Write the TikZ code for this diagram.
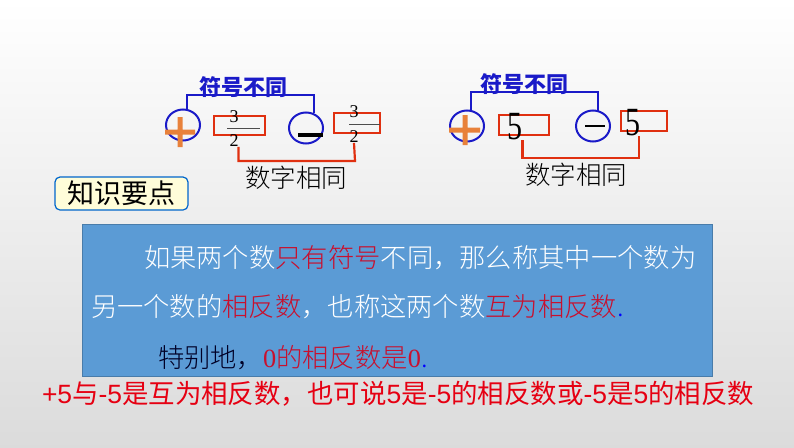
\documentclass[tikz,border=0pt]{standalone}
\usepackage{fontspec}
\usetikzlibrary{shapes.geometric}
\setmainfont{Noto Sans CJK SC}
\newfontfamily\thin{Noto Sans CJK SC Light}
\newfontfamily\lat{Liberation Sans}
\newfontfamily\ser{Liberation Serif}
\definecolor{signblue}{HTML}{1A1AC8}
\definecolor{markred}{HTML}{E03010}
\definecolor{plusorange}{HTML}{E8813A}
\definecolor{boxblue}{HTML}{5B9BD5}
\definecolor{textred}{HTML}{C8102E}
\definecolor{linered}{HTML}{E60012}
\tikzset{
  every node/.style={inner sep=0pt,outer sep=0pt},
  signcirc/.style={ellipse,draw=signblue,line width=2pt,minimum width=34pt,minimum height=31pt},
  numbox/.style={draw=markred,line width=2.2pt,anchor=north west},
  signlink/.style={draw=signblue,line width=2.2pt},
  numlink/.style={draw=markred,line width=2.2pt},
  signtext/.style={font=\fontsize{22}{22}\selectfont\bfseries,text=signblue},
  numtext/.style={font=\thin\fontsize{25.5}{26}\selectfont,text=black},
  digit/.style={font=\ser\fontsize{#1}{#1}\selectfont},
  boxline/.style={anchor=west,font=\thin\fontsize{26.3}{27}\selectfont,text=white}
}
\newcommand{\rd}[1]{\textcolor{textred}{#1}}
\begin{document}
\begin{tikzpicture}[x=1pt,y=-1pt]
  \useasboundingbox (0,0) rectangle (794,447);
  \shade[top color=white,middle color=gray!8,bottom color=gray!28] (0,0) rectangle (794,447);

  % left pair
  \node[signcirc] (circa) at (183,125) {};
  \node[signcirc] (circb) at (306,128) {};
  \fill[plusorange] (165,129.5) rectangle (195,134.5) (177.5,117) rectangle (182.5,147);
  \fill[black] (298,133) rectangle (323,137);
  \node[numbox,minimum width=51pt,minimum height=19pt] (boxa) at (214,116) {};
  \node[numbox,minimum width=46pt,minimum height=20pt] (boxb) at (334,113) {};
  \draw[black!70,line width=.6pt] (227,128) -- (260,128) (349,124) -- (380,124);
  \node[digit=18] (numa) at (234,117) {3};
  \node[digit=18] (dena) at (234,141) {2};
  \node[digit=18] (numb) at (354,112) {3};
  \node[digit=18] (denb) at (354,137) {2};
  \coordinate (topa) at (314,95);
  \coordinate (lowa) at (355,161);
  \draw[signlink] (circa.75) |- (topa) -- (topa |- circb.north);
  \draw[numlink] (dena.south east) |- (lowa) -- (denb.south);
  \node[signtext] (signa) at (243,87) {符号不同};
  \node[numtext] (numsa) at (296,178) {数字相同};

  % right pair
  \node[signcirc] (circc) at (467,126) {};
  \node[signcirc] (circd) at (593,126) {};
  \fill[plusorange] (449,127.5) rectangle (480,132.5) (462.5,115) rectangle (467.5,145);
  \draw[black,line width=1.5pt] (585,126) -- (605,126);
  \node[numbox,minimum width=50pt,minimum height=20pt] (boxc) at (499,115) {};
  \node[numbox,minimum width=46pt,minimum height=20pt] (boxd) at (621,111) {};
  \node[digit=40] (fivea) at (515,127) {\scalebox{.75}[1]{5}};
  \node[digit=40] (fiveb) at (633,123) {\scalebox{.75}[1]{5}};
  \coordinate (topb) at (598,92);
  \coordinate (lowb) at (639,158);
  \draw[signlink] (circc.75) |- (topb) -- (circd.north -| topb);
  \draw[numlink] (fivea.south east) |- (lowb) -- (fiveb.south -| lowb);
  \node[signtext] (signb) at (524,84) {符号不同};
  \node[numtext] (numsb) at (576,175) {数字相同};

  % key points
  \node[draw=blue!50!cyan!80!black,line width=1.2pt,rounded corners=5pt,fill=yellow!15,
    minimum width=133pt,minimum height=33pt,font=\fontsize{27}{27}\selectfont] (keybox) at (121.5,193.5) {\raisebox{-3.5pt}{知识要点}};

  % blue box
  \node[draw=boxblue!80!black,fill=boxblue,minimum width=630pt,minimum height=152pt] (mainbox) at (397,300) {};
  \node[boxline] (linea) at (144,258) {如果两个数\rd{只有符号}不同，那么称其中一个数为};
  \node[boxline] (lineb) at (91,307) {另一个数的\rd{相反数}，也称这两个数\rd{互为相反数}\textcolor{blue}{.}};
  \node[boxline,text=black!85!blue] (linec) at (158,358) {特别地，\rd{{\ser 0}的相反数是{\ser 0}}\textcolor{blue}{.}};

  % bottom line
  \node[anchor=west,text=linered,font=\fontsize{26.45}{27}\selectfont] (lastline) at (42,394)
    {{\lat +5}与{\lat -5}是互为相反数，也可说{\lat 5}是{\lat -5}的相反数或{\lat -5}是{\lat 5}的相反数};
\end{tikzpicture}
\end{document}
